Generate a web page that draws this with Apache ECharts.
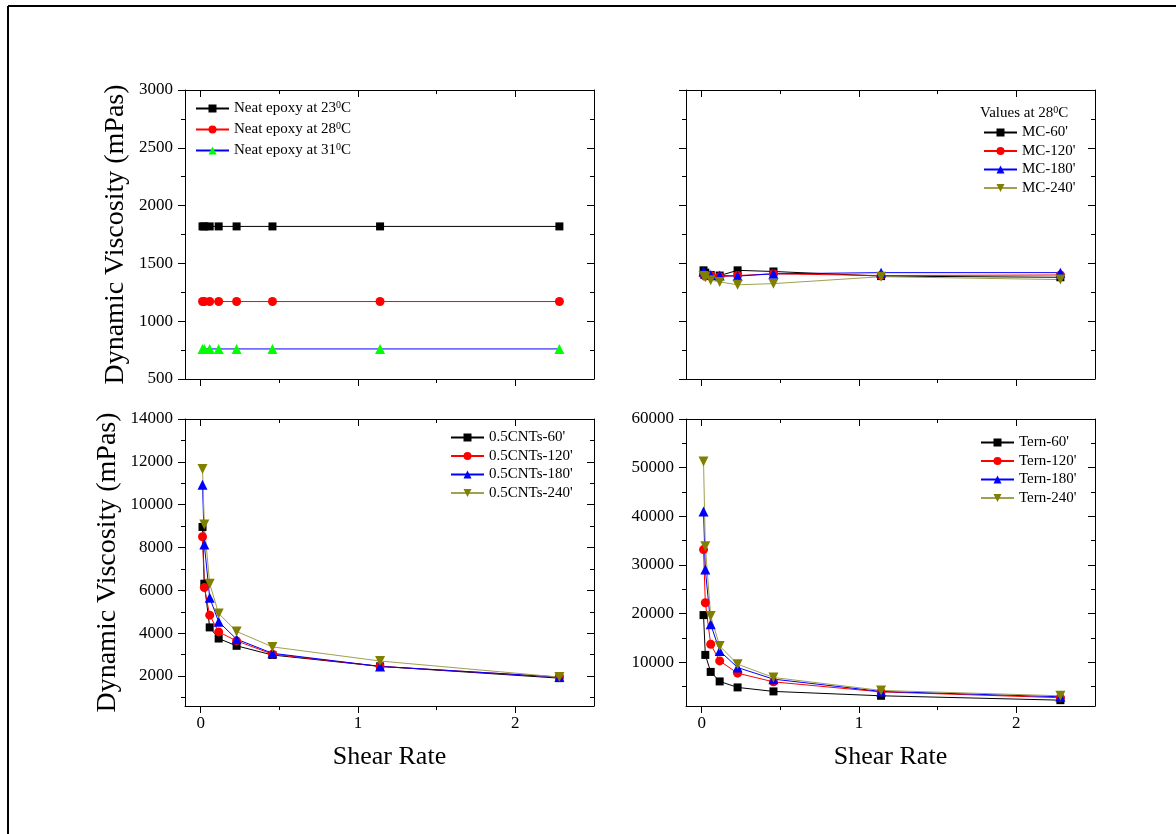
<!DOCTYPE html>
<html><head><meta charset="utf-8">
<script src="https://cdn.jsdelivr.net/npm/echarts@6/dist/echarts.min.js"></script>
<style>html,body{margin:0;padding:0;background:#fff}#c{width:1176px;height:834px}</style>
</head><body><div id="c"></div>
<script>
// ---------- data ----------
const shearRate = [0.0114, 0.0228, 0.057, 0.114, 0.228, 0.456, 1.14, 2.28];

const neat23 = [1820, 1820, 1820, 1820, 1820, 1820, 1820, 1820];
const neat28 = [1170, 1170, 1170, 1170, 1170, 1170, 1170, 1170];
const neat31 = [760, 760, 760, 760, 760, 760, 760, 760];

const mc60  = [1440, 1420, 1400, 1395, 1440, 1430, 1390, 1380];
const mc120 = [1400, 1390, 1395, 1385, 1395, 1410, 1395, 1400];
const mc180 = [1430, 1410, 1400, 1395, 1390, 1410, 1420, 1420];
const mc240 = [1390, 1380, 1355, 1340, 1315, 1325, 1385, 1360];

const cnt60  = [8960, 6310, 4270, 3750, 3410, 2980, 2450, 1900];
const cnt120 = [8500, 6130, 4840, 4060, 3640, 3020, 2450, 1950];
const cnt180 = [10930, 8140, 5660, 4530, 3720, 3060, 2450, 1950];
const cnt240 = [11660, 9070, 6310, 4920, 4080, 3360, 2700, 1950];

const tern60  = [19690, 11500, 8010, 6050, 4820, 4000, 3100, 2200];
const tern120 = [33160, 22230, 13690, 10270, 7750, 5960, 3900, 2700];
const tern180 = [41000, 29060, 17790, 12320, 8910, 6520, 4000, 2900];
const tern240 = [51250, 33830, 19490, 13340, 9590, 6860, 4200, 3100];

const xTickLabels = [0, 1, 2];
const xMinorTicks = [0.5, 1.5];
const yTicksNeat = [500, 1000, 1500, 2000, 2500, 3000];
const yMinorNeat = [750, 1250, 1750, 2250, 2750];
const yTicksCNT = [2000, 4000, 6000, 8000, 10000, 12000, 14000];
const yMinorCNT = [1000, 3000, 5000, 7000, 9000, 11000, 13000];
const yTicksTern = [10000, 20000, 30000, 40000, 50000, 60000];
const yMinorTern = [5000, 15000, 25000, 35000, 45000, 55000];

const namesNeat = ['Neat epoxy at 23⁰C', 'Neat epoxy at 28⁰C', 'Neat epoxy at 31⁰C'];
const namesMC = ["MC-60'", "MC-120'", "MC-180'", "MC-240'"];
const namesCNT = ["0.5CNTs-60'", "0.5CNTs-120'", "0.5CNTs-180'", "0.5CNTs-240'"];
const namesTern = ["Tern-60'", "Tern-120'", "Tern-180'", "Tern-240'"];
const mcTitle = 'Values at 28⁰C';
const yTitle = 'Dynamic Viscosity (mPas)';
const xTitle = 'Shear Rate';

// ---------- styling / layout ----------
const FONT = "'Liberation Serif','Times New Roman',serif";
const grids = [
  {left:185, top:90, width:409, height:289},
  {left:686, top:90, width:409, height:289},
  {left:185, top:419, width:409, height:287},
  {left:686, top:419, width:409, height:287}
];
const panels = [
  {ymin:500, ymax:3000, maj:yTicksNeat, min:yMinorNeat, yLab:true, xLab:false, yName:yTitle, gap:55},
  {ymin:500, ymax:3000, maj:yTicksNeat, min:yMinorNeat, yLab:false, xLab:false, yName:'', gap:0},
  {ymin:600, ymax:14000, maj:yTicksCNT, min:yMinorCNT, yLab:true, xLab:true, yName:yTitle, gap:63},
  {ymin:1000, ymax:60000, maj:yTicksTern, min:yMinorTern, yLab:true, xLab:true, yName:'', gap:0}
];
const line = {show:true, onZero:false, lineStyle:{color:'#000', width:1}};
const noLine = {show:false, onZero:false};
const tickStyle = {color:'#000', width:1};
const xAxes = [], yAxes = [], mainIdx = [];
panels.forEach((p, g) => {
  const xb = {gridIndex:g, type:'value', min:-0.1, max:2.5, splitLine:{show:false}};
  mainIdx.push({x:xAxes.length, y:yAxes.length});
  xAxes.push(Object.assign({}, xb, {position:'bottom', axisLine:line,
    axisTick:{show:true, inside:false, length:7, customValues:xTickLabels, lineStyle:tickStyle},
    axisLabel:{show:p.xLab, customValues:xTickLabels, margin:9, fontFamily:FONT, fontSize:17, color:'#000', formatter:v=>String(v)},
    name:p.xLab?xTitle:'', nameLocation:'middle', nameGap:38, nameTextStyle:{fontFamily:FONT, fontSize:26, color:'#000'}}));
  xAxes.push(Object.assign({}, xb, {position:'bottom', axisLine:noLine,
    axisTick:{show:true, inside:false, length:4, customValues:xMinorTicks, lineStyle:tickStyle}, axisLabel:{show:false}}));
  xAxes.push(Object.assign({}, xb, {position:'top', axisLine:line,
    axisTick:{show:true, inside:true, length:7, customValues:xTickLabels, lineStyle:tickStyle}, axisLabel:{show:false}}));
  xAxes.push(Object.assign({}, xb, {position:'top', axisLine:noLine,
    axisTick:{show:true, inside:true, length:4, customValues:xMinorTicks, lineStyle:tickStyle}, axisLabel:{show:false}}));
  const yb = {gridIndex:g, type:'value', min:p.ymin, max:p.ymax, splitLine:{show:false}};
  yAxes.push(Object.assign({}, yb, {position:'left', axisLine:line,
    axisTick:{show:true, inside:false, length:7, customValues:p.maj, lineStyle:tickStyle},
    axisLabel:{show:p.yLab, customValues:p.maj, margin:12, fontFamily:FONT, fontSize:17, color:'#000', formatter:v=>String(v)},
    name:p.yName, nameLocation:'middle', nameGap:p.gap, nameRotate:90,
    nameTextStyle:{fontFamily:FONT, fontSize:28, color:'#000'}}));
  yAxes.push(Object.assign({}, yb, {position:'left', axisLine:noLine,
    axisTick:{show:true, inside:false, length:4, customValues:p.min, lineStyle:tickStyle}, axisLabel:{show:false}}));
  yAxes.push(Object.assign({}, yb, {position:'right', axisLine:line,
    axisTick:{show:true, inside:true, length:7, customValues:p.maj, lineStyle:tickStyle}, axisLabel:{show:false}}));
  yAxes.push(Object.assign({}, yb, {position:'right', axisLine:noLine,
    axisTick:{show:true, inside:true, length:4, customValues:p.min, lineStyle:tickStyle}, axisLabel:{show:false}}));
});

const INV_TRI = 'path://M0,0L2,0L1,1.732Z';
const styles = [
  {symbol:'rect', size:8, color:'#000000', line:'#000000'},
  {symbol:'circle', size:9, color:'#ff0000', line:'#ff0000'},
  {symbol:'triangle', size:10, color:'#0000ff', line:'#0000ff'},
  {symbol:INV_TRI, size:10, color:'#808000', line:'#a0a050'}
];
function mk(name, vals, g, st) {
  return {
    type:'line', name:name, xAxisIndex:mainIdx[g].x, yAxisIndex:mainIdx[g].y,
    data: shearRate.map((x, i) => [x, vals[i]]),
    symbol:st.symbol, symbolSize:st.size, showSymbol:true,
    itemStyle:{color:st.color}, lineStyle:{color:st.line, width:1},
    emphasis:{disabled:true}, animation:false
  };
}
const series = [];
const neatStyles = [
  {symbol:'rect', size:8, color:'#000000', line:'#000000'},
  {symbol:'circle', size:9, color:'#ff0000', line:'#ff0000'},
  {symbol:'triangle', size:10, color:'#00ff00', line:'#0000ff'}
];
[neat23, neat28, neat31].forEach((v, i) => series.push(mk(namesNeat[i], v, 0, neatStyles[i])));
[mc60, mc120, mc180, mc240].forEach((v, i) => series.push(mk(namesMC[i], v, 1, styles[i])));
[cnt60, cnt120, cnt180, cnt240].forEach((v, i) => series.push(mk(namesCNT[i], v, 2, styles[i])));
[tern60, tern120, tern180, tern240].forEach((v, i) => series.push(mk(namesTern[i], v, 3, styles[i])));

const rich = {
  t:{fontFamily:FONT, fontSize:15, fontWeight:'normal', color:'#000', lineHeight:17},
  s:{fontFamily:FONT, fontSize:10, fontWeight:'normal', color:'#000', lineHeight:10, verticalAlign:'top'}
};
const fmt = n => n.split('⁰').map(part => part ? '{t|' + part + '}' : '').join('{s|0}');
function legend(data, left, top, gap) {
  return {data:data, left:left, top:top, orient:'vertical', itemGap:gap, itemWidth:33, itemHeight:10,
    padding:0, formatter:fmt, textStyle:{rich:rich}, selectedMode:false, inactiveColor:'#000'};
}

const chart = echarts.init(document.getElementById('c'), null, {renderer:'canvas'});
chart.setOption({
  animation:false,
  backgroundColor:'#fff',
  grid:grids,
  xAxis:xAxes,
  yAxis:yAxes,
  legend:[
    legend(namesNeat, 195, 100, 5),
    legend(namesMC, 983, 125, 3.5),
    legend(namesCNT, 450, 430, 3.5),
    legend(namesTern, 980, 435, 3.5)
  ],
  title:{text:fmt(mcTitle), left:980, top:105, padding:0, textStyle:{fontWeight:'normal', rich:rich}},
  graphic:[
    {type:'line', shape:{x1:8, y1:6, x2:1176, y2:6}, style:{stroke:'#000', lineWidth:2}},
    {type:'line', shape:{x1:8, y1:6, x2:8, y2:834}, style:{stroke:'#000', lineWidth:2}}
  ],
  series:series
});
</script>
</body></html>
